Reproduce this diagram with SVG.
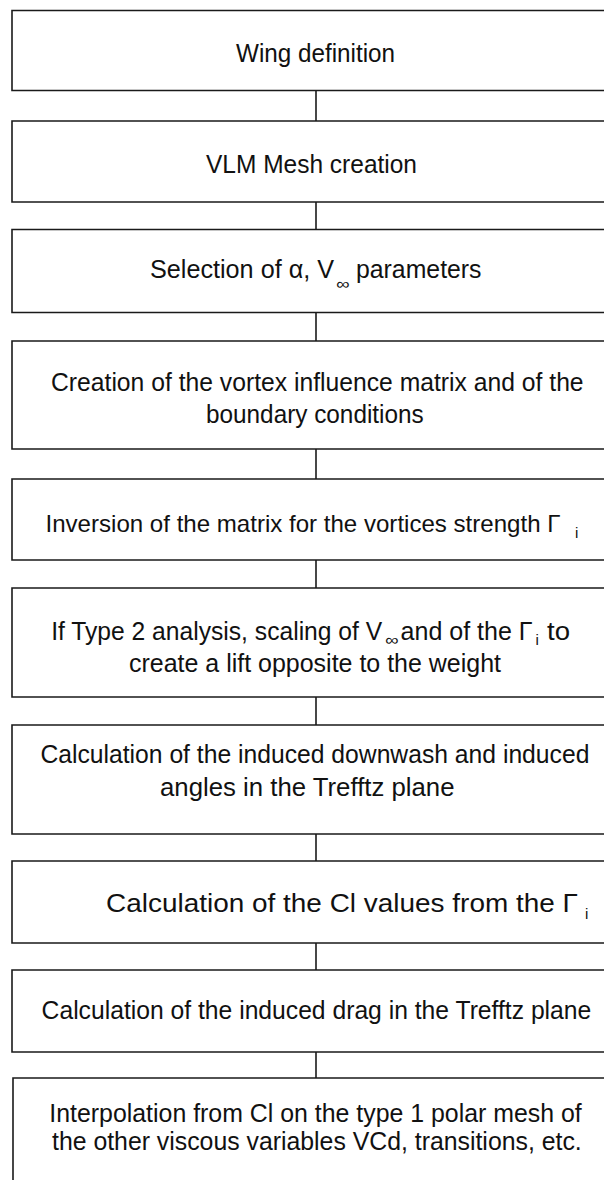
<svg xmlns="http://www.w3.org/2000/svg" width="604" height="1180" viewBox="0 0 604 1180">
<style>
.box{fill:#fff;stroke:#1a1a1a;stroke-width:1.6}
.con{stroke:#1a1a1a;stroke-width:1.6;fill:none}
text{font-family:"Liberation Sans",Arial,sans-serif;font-size:25px;fill:#111}
.sub{font-size:15px}
</style>
<rect width="604" height="1180" fill="#fff"/>
<g id="connectors">
<line class="con" x1="316" y1="90.5" x2="316" y2="121"/>
<line class="con" x1="316" y1="202" x2="316" y2="229.5"/>
<line class="con" x1="316" y1="312.5" x2="316" y2="341"/>
<line class="con" x1="316" y1="449" x2="316" y2="479"/>
<line class="con" x1="316" y1="560" x2="316" y2="588"/>
<line class="con" x1="316" y1="697" x2="316" y2="725"/>
<line class="con" x1="316" y1="834" x2="316" y2="861"/>
<line class="con" x1="316" y1="943" x2="316" y2="970"/>
<line class="con" x1="316" y1="1052" x2="316" y2="1078"/>
</g>
<g id="n1">
<path class="box" d="M605,10.5 H12 V90.5 H605"/>
<text x="236" y="61.5" textLength="159" lengthAdjust="spacingAndGlyphs">Wing definition</text>
</g>
<g id="n2">
<path class="box" d="M605,121 H12 V202 H605"/>
<text x="206" y="173" textLength="211" lengthAdjust="spacingAndGlyphs">VLM Mesh creation</text>
</g>
<g id="n3">
<path class="box" d="M605,229.5 H12 V312.5 H605"/>
<text x="150" y="278.3" textLength="184" lengthAdjust="spacingAndGlyphs">Selection of α, V</text>
<text class="sub" x="336" y="289" textLength="13.5" lengthAdjust="spacingAndGlyphs">∞</text>
<text x="356" y="278.3" textLength="125.5" lengthAdjust="spacingAndGlyphs">parameters</text>
</g>
<g id="n4">
<path class="box" d="M605,341 H12 V449 H605"/>
<text x="51" y="391" textLength="532.6" lengthAdjust="spacingAndGlyphs">Creation of the vortex influence matrix and of the</text>
<text x="206" y="422.7" textLength="217.7" lengthAdjust="spacingAndGlyphs">boundary conditions</text>
</g>
<g id="n5">
<path class="box" d="M605,479 H12 V560 H605"/>
<text x="45.5" y="531.7" style="font-size:24px" textLength="515" lengthAdjust="spacingAndGlyphs">Inversion of the matrix for the vortices strength Γ</text>
<text class="sub" x="575" y="538">i</text>
</g>
<g id="n6">
<path class="box" d="M605,588 H12 V697 H605"/>
<text x="51.2" y="640" textLength="331" lengthAdjust="spacingAndGlyphs">If Type 2 analysis, scaling of V</text>
<text class="sub" x="385" y="645" textLength="13.5" lengthAdjust="spacingAndGlyphs">∞</text>
<text x="400.6" y="640" textLength="132" lengthAdjust="spacingAndGlyphs">and of the Γ</text>
<text class="sub" x="535.5" y="645">i</text>
<text x="547" y="640" textLength="23" lengthAdjust="spacingAndGlyphs">to</text>
<text x="129" y="671.7" textLength="372" lengthAdjust="spacingAndGlyphs">create a lift opposite to the weight</text>
</g>
<g id="n7">
<path class="box" d="M605,725 H12 V834 H605"/>
<text x="40.4" y="763.3" textLength="549" lengthAdjust="spacingAndGlyphs">Calculation of the induced downwash and induced</text>
<text x="160" y="796" textLength="294.5" lengthAdjust="spacingAndGlyphs">angles in the Trefftz plane</text>
</g>
<g id="n8">
<path class="box" d="M605,861 H12 V943 H605"/>
<text x="106" y="911.7" textLength="472" lengthAdjust="spacingAndGlyphs">Calculation of the Cl values from the Γ</text>
<text class="sub" x="585" y="918.5">i</text>
</g>
<g id="n9">
<path class="box" d="M605,970 H12 V1052 H605"/>
<text x="41.6" y="1019.3" textLength="549.7" lengthAdjust="spacingAndGlyphs">Calculation of the induced drag in the Trefftz plane</text>
</g>
<g id="n10">
<path class="box" d="M605,1078 H13 V1181"/>
<text x="49.3" y="1121.7" textLength="532.4" lengthAdjust="spacingAndGlyphs">Interpolation from Cl on the type 1 polar mesh of</text>
<text x="52" y="1150" textLength="529.7" lengthAdjust="spacingAndGlyphs">the other viscous variables VCd, transitions, etc.</text>
</g>
</svg>
